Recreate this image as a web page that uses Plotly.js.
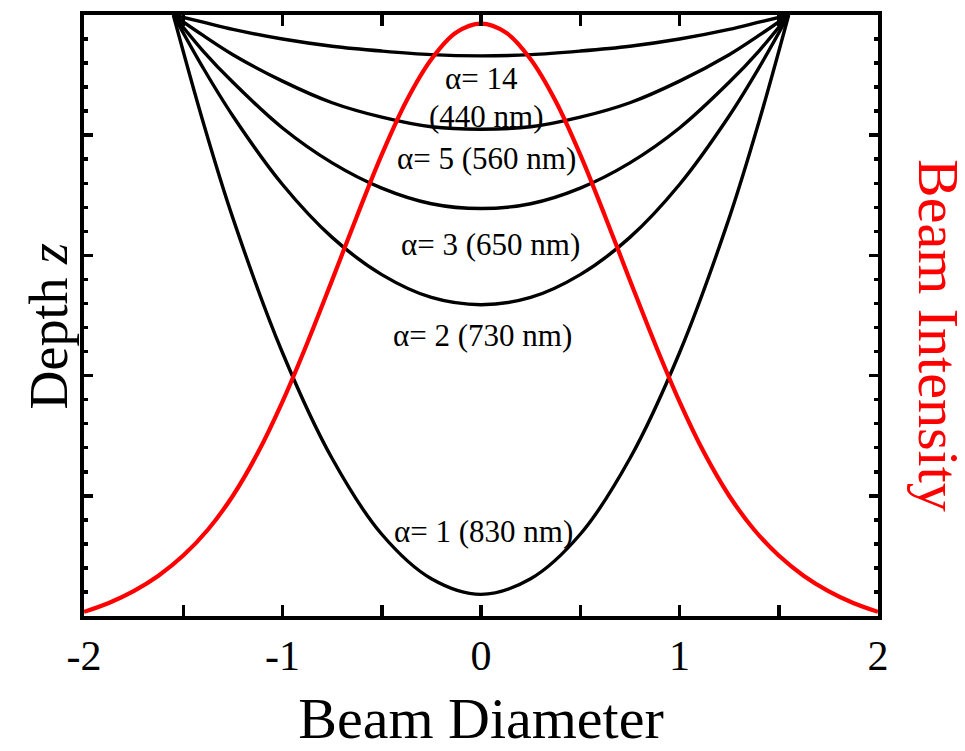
<!DOCTYPE html>
<html>
<head>
<meta charset="utf-8">
<script src="https://cdn.plot.ly/plotly-3.0.1.min.js"></script>
<style>
  html, body { margin: 0; padding: 0; background: #fff; }
  #chart { width: 965px; height: 751px; }
</style>
</head>
<body>
<div id="chart"></div>
<script>
// Beam diameter positions shared by the depth profiles
const diameter = [-1.55, -1.4, -1.25, -1, -0.75, -0.5, -0.25, 0, 0.25, 0.5, 0.75, 1, 1.25, 1.4, 1.55];

// Depth z reached across the beam for each alpha
const depthAlpha1  = [0, 0.89, 1.69, 2.81, 3.69, 4.32, 4.69, 4.82, 4.69, 4.32, 3.69, 2.81, 1.69, 0.89, 0];
const depthAlpha2  = [0, 0.44, 0.84, 1.41, 1.85, 2.16, 2.35, 2.41, 2.35, 2.16, 1.85, 1.41, 0.84, 0.44, 0];
const depthAlpha3  = [0, 0.30, 0.56, 0.94, 1.23, 1.44, 1.57, 1.61, 1.57, 1.44, 1.23, 0.94, 0.56, 0.30, 0];
const depthAlpha5  = [0, 0.17, 0.33, 0.55, 0.73, 0.85, 0.93, 0.95, 0.93, 0.85, 0.73, 0.55, 0.33, 0.17, 0];
const depthAlpha14 = [0, 0.06, 0.12, 0.20, 0.26, 0.30, 0.33, 0.34, 0.33, 0.30, 0.26, 0.20, 0.12, 0.06, 0];

// Gaussian beam intensity profile
const intensityX = [-2, -1.875, -1.75, -1.625, -1.5, -1.375, -1.25, -1.125, -1, -0.875, -0.75, -0.625, -0.5, -0.375, -0.25, -0.125,
                    0, 0.125, 0.25, 0.375, 0.5, 0.625, 0.75, 0.875, 1, 1.125, 1.25, 1.375, 1.5, 1.625, 1.75, 1.875, 2];
const intensityY = [0.007, 0.022, 0.042, 0.068, 0.102, 0.146, 0.203, 0.275, 0.362, 0.461, 0.567, 0.675, 0.779, 0.870, 0.940, 0.985,
                    1, 0.985, 0.940, 0.870, 0.779, 0.675, 0.567, 0.461, 0.362, 0.275, 0.203, 0.146, 0.102, 0.068, 0.042, 0.022, 0.007];

// Axis tick labels
const xTickVals = [-2, -1, 0, 1, 2];
const xTickText = ["-2", "-1", "0", "1", "2"];

// Curve labels: text and anchor position (diameter, depth)
const labelText = ["α= 14", "(440 nm)", "α= 5 (560 nm)", "α= 3 (650 nm)", "α= 2 (730 nm)", "α= 1 (830 nm)"];
const labelX = [0.005, 0.03, 0.03, 0.05, 0.01, 0.015];
const labelZ = [0.53, 0.845, 1.19, 1.91, 2.67, 4.30];

const serif = "'Liberation Serif', 'Times New Roman', serif";
const profiles = [depthAlpha1, depthAlpha2, depthAlpha3, depthAlpha5, depthAlpha14];

const traces = profiles.map(z => ({
  x: diameter, y: z, type: 'scatter', mode: 'lines',
  line: { color: '#000', width: 3.4, shape: 'spline', smoothing: 1 },
  xaxis: 'x', yaxis: 'y', hoverinfo: 'skip', showlegend: false
}));

traces.push({
  x: intensityX, y: intensityY, type: 'scatter', mode: 'lines',
  line: { color: '#ff0000', width: 4.2, shape: 'spline', smoothing: 1 },
  xaxis: 'x', yaxis: 'y2', hoverinfo: 'skip', showlegend: false
});

const annotations = labelText.map((t, i) => ({
  x: labelX[i], y: labelZ[i], xref: 'x', yref: 'y', text: t, showarrow: false,
  font: { family: serif, size: 31, color: '#000' }
}));

// Right-hand axis title, reading top to bottom
annotations.push({
  x: 1.0, xref: 'paper', xanchor: 'left', xshift: 26,
  y: 0.5, yref: 'paper', yanchor: 'middle', yshift: -20,
  text: 'Beam Intensity', textangle: 90, showarrow: false,
  font: { family: serif, size: 58, color: '#ff0000' }
});

// Left-hand axis title
annotations.push({
  x: 0, xref: 'paper', xanchor: 'right', xshift: -4,
  y: 0.5, yref: 'paper', yanchor: 'middle', yshift: -11,
  text: 'Depth <i>z</i>', textangle: -90, showarrow: false,
  font: { family: serif, size: 54, color: '#000' }
});

const layout = {
  width: 965, height: 751,
  margin: { l: 84, r: 87, t: 15, b: 135 },
  paper_bgcolor: '#fff', plot_bgcolor: '#fff',
  showlegend: false,
  xaxis: {
    range: [-2, 2], tickvals: xTickVals, ticktext: xTickText,
    ticks: 'inside', ticklen: 11, tickwidth: 3.5, tickcolor: '#000',
    minor: { dtick: 0.5, ticks: 'inside', ticklen: 5, tickwidth: 3.5, tickcolor: '#000' },
    showline: true, linewidth: 4, linecolor: '#000', mirror: 'allticks',
    showgrid: false, zeroline: false,
    tickfont: { family: serif, size: 42, color: '#000' },
    title: { text: 'Beam Diameter', font: { family: serif, size: 58, color: '#000' }, standoff: 26 }
  },
  yaxis: {
    range: [5, 0], dtick: 1, tick0: 0,
    ticks: 'inside', ticklen: 9, tickwidth: 3.5, tickcolor: '#000',
    minor: { dtick: 0.2, ticks: 'inside', ticklen: 4, tickwidth: 3.5, tickcolor: '#000' },
    showticklabels: false,
    showline: true, linewidth: 4, linecolor: '#000', mirror: 'allticks',
    showgrid: false, zeroline: false
  },
  yaxis2: {
    overlaying: 'y', side: 'right', range: [0, 1.0146],
    showticklabels: false, ticks: '', showline: false, showgrid: false, zeroline: false
  },
  annotations: annotations
};

Plotly.newPlot('chart', traces, layout, { displayModeBar: false, staticPlot: true });
</script>
</body>
</html>
